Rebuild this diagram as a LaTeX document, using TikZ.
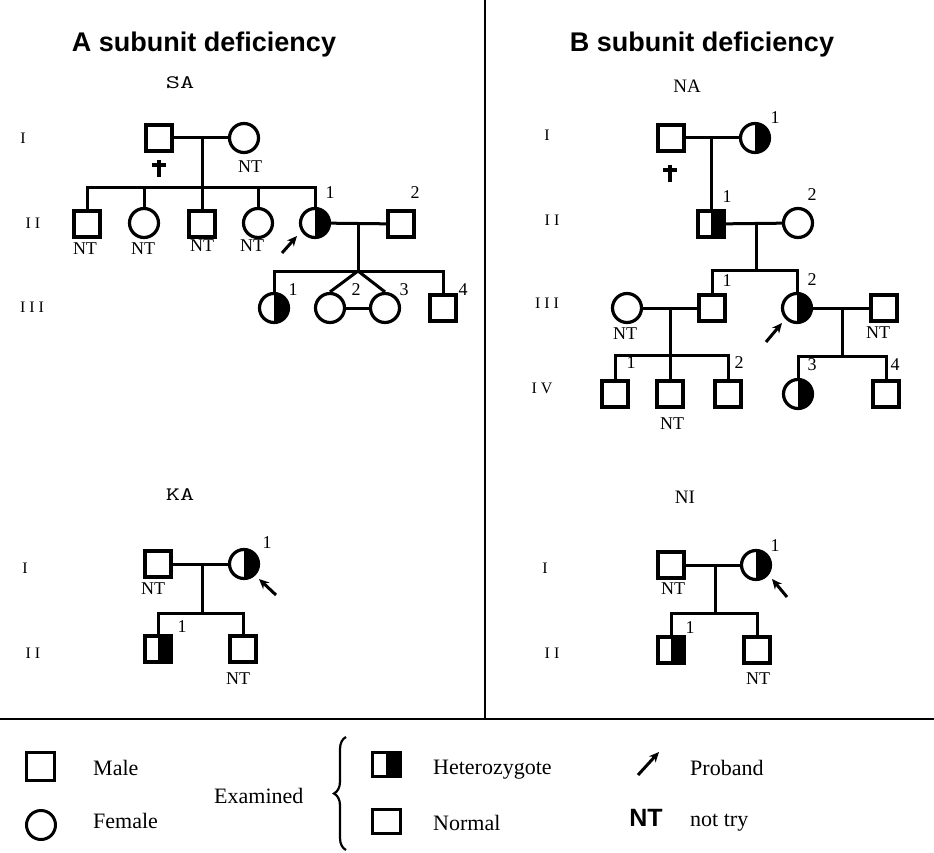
\documentclass[tikz,border=0pt]{standalone}
\usepackage{fontspec}
\setmainfont{Liberation Serif}
\setsansfont{Liberation Sans}
\usetikzlibrary{arrows.meta,decorations.pathreplacing}
\begin{document}
\begin{tikzpicture}[x=1pt,y=-1pt,
  ln/.style={line width=3pt},
  male/.style={draw,rectangle,minimum size=26pt,inner sep=0pt,line width=3.2pt},
  female/.style={draw,circle,minimum size=29pt,inner sep=0pt,line width=3.2pt},
  hetf/.style={female,path picture={\fill (path picture bounding box.north) rectangle (path picture bounding box.south east);}},
  hetm/.style={male,path picture={\fill (path picture bounding box.north) rectangle (path picture bounding box.south east);}},
  lab/.style={font=\fontsize{18}{18}\selectfont,inner sep=0pt},
  gen/.style={font=\fontsize{16}{16}\selectfont,inner sep=0pt},
  ped/.style={font=\fontsize{19}{19}\selectfont,inner sep=0pt},
  pedtt/.style={font=\ttfamily\fontsize{19}{19}\selectfont,inner sep=0pt},
  ttl/.style={font=\sffamily\bfseries\fontsize{27}{27}\selectfont,inner sep=0pt},
  leg/.style={font=\fontsize{22}{22}\selectfont,inner sep=0pt,anchor=base west},
  legsym/.style={draw,rectangle,minimum width=28pt,minimum height=24pt,inner sep=0pt,line width=3pt},
  prob/.style={line width=3pt,-{Stealth[length=10pt,width=9pt]}},
  crs/.style={line width=3.6pt},
]
\useasboundingbox (0,0) rectangle (934,853);
% frame lines
\coordinate (vt) at (485,0);
\coordinate (vb) at (485,719);
\coordinate (hl) at (0,719);
\coordinate (hr) at (934,719);
\draw[line width=2.4pt] (vt) -- (vb);
\draw[line width=2.4pt] (hl) -- (hr);
% titles
\node[ttl] (tA) at (204,45) {A subunit deficiency};
\node[ttl] (tB) at (702,45) {B subunit deficiency};

%================ SA
\node[pedtt] (saT) at (180,83) {\scalebox{1.45}[1]{SA}};
\node[gen] (saG1) at (23,138) {I};
\node[gen] (saG2) at (33,223) {I I};
\node[gen] (saG3) at (32,307) {I I I};
\node[male] (sa1) at (159,138) {};
\node[female] (sa2) at (244,138) {};
\draw[ln] (sa1) -- (sa2);
\coordinate (sam) at (202,138);
\coordinate (sasib) at (202,188);
\draw[ln] (sam) -- (sasib);
\draw[crs] (159,160) -- (159,177);
\draw[crs] (152,165) -- (166,165);
\node[lab] (saNT0) at (250,167) {NT};
\node[male] (sa3) at (87,224) {};
\node[female] (sa4) at (144,223) {};
\node[male] (sa5) at (202,224) {};
\node[female] (sa6) at (258,223) {};
\node[hetf] (sa7) at (315,223) {};
\node[male] (sa8) at (401,224) {};
\draw[ln] (sa3.north) |- (sasib) -| (sa7.north);
\draw[ln] (sa4.north) -- (sa4.north |- sasib);
\draw[ln] (sa5.north) -- (sa5.north |- sasib);
\draw[ln] (sa6.north) -- (sa6.north |- sasib);
\node[lab] (saNT1) at (85,249) {NT};
\node[lab] (saNT2) at (143,249) {NT};
\node[lab] (saNT3) at (202,246) {NT};
\node[lab] (saNT4) at (252,246) {NT};
\node[lab] (sal1) at (330,193) {1};
\node[lab] (sal2) at (415,193) {2};
\coordinate (saa1) at (282,253);
\coordinate (saa2) at (297,236);
\draw[prob] (saa1) -- (saa2);
\draw[ln] (sa7) -- (sa8);
\coordinate (sam2) at (358,223);
\coordinate (sasib2) at (358,271);
\draw[ln] (sam2) -- (sasib2);
\node[hetf] (sa9) at (274,308) {};
\node[female] (sa10) at (330,308) {};
\node[female] (sa11) at (385,308) {};
\node[male] (sa12) at (443,308) {};
\draw[ln] (sa9.north) |- (sasib2) -| (sa12.north);
\draw[ln] (sasib2) -- (sa10.north);
\draw[ln] (sasib2) -- (sa11.north);
\draw[ln] (sa10) -- (sa11);
\node[lab] (sal3) at (293,290) {1};
\node[lab] (sal4) at (356,290) {2};
\node[lab] (sal5) at (404,290) {3};
\node[lab] (sal6) at (463,290) {4};

%================ NA
\node[ped] (naT) at (687,86) {NA};
\node[gen] (naG1) at (547,135) {I};
\node[gen] (naG2) at (552,220) {I I};
\node[gen] (naG3) at (547,303) {I I I};
\node[gen] (naG4) at (542,388) {I V};
\node[male] (na1) at (671,138) {};
\node[hetf] (na2) at (755,138) {};
\draw[ln] (na1) -- (na2);
\coordinate (nam) at (711,138);
\draw[crs] (670,165) -- (670,182);
\draw[crs] (663,170) -- (677,170);
\node[lab] (nal1) at (775,118) {1};
\node[hetm] (na3) at (711,224) {};
\node[female] (na4) at (798,223) {};
\draw[ln] (nam) -- (na3);
\draw[ln] (na3) -- (na4);
\node[lab] (nal2) at (727,197) {1};
\node[lab] (nal3) at (812,195) {2};
\coordinate (nam2) at (756,223);
\coordinate (nasib2) at (756,270);
\draw[ln] (nam2) -- (nasib2);
\node[male] (na5) at (712,308) {};
\node[hetf] (na6) at (797,308) {};
\draw[ln] (na5.north) |- (nasib2) -| (na6.north);
\node[lab] (nal4) at (727,281) {1};
\node[lab] (nal5) at (812,280) {2};
\node[female] (na7) at (627,308) {};
\node[lab] (naNT1) at (625,334) {NT};
\draw[ln] (na7) -- (na5);
\coordinate (nam3) at (670,308);
\coordinate (nasib3) at (670,355);
\draw[ln] (nam3) -- (nasib3);
\node[male] (na8) at (615,394) {};
\node[male] (na9) at (670,394) {};
\node[male] (na10) at (728,394) {};
\draw[ln] (na8.north) |- (nasib3) -| (na10.north);
\draw[ln] (nasib3) -- (na9);
\node[lab] (nal6) at (631,363) {1};
\node[lab] (nal7) at (739,363) {2};
\node[lab] (naNT2) at (672,424) {NT};
\node[male] (na11) at (884,308) {};
\node[lab] (naNT3) at (878,333) {NT};
\draw[ln] (na6) -- (na11);
\coordinate (nam4) at (842,308);
\coordinate (nasib4) at (842,356);
\draw[ln] (nam4) -- (nasib4);
\node[hetf] (na12) at (798,394) {};
\node[male] (na13) at (886,394) {};
\draw[ln] (na12.north) |- (nasib4) -| (na13.north);
\node[lab] (nal8) at (812,365) {3};
\node[lab] (nal9) at (895,365) {4};
\coordinate (naa1) at (766,342);
\coordinate (naa2) at (782,323);
\draw[prob] (naa1) -- (naa2);

%================ KA
\node[pedtt] (kaT) at (180,495) {\scalebox{1.45}[1]{KA}};
\node[gen] (kaG1) at (25,568) {I};
\node[gen] (kaG2) at (33,653) {I I};
\node[male] (ka1) at (158,564) {};
\node[hetf] (ka2) at (244,564) {};
\draw[ln] (ka1) -- (ka2);
\node[lab] (kaNT1) at (153,589) {NT};
\node[lab] (kal1) at (267,543) {1};
\coordinate (kam) at (202,564);
\coordinate (kasib) at (202,613);
\draw[ln] (kam) -- (kasib);
\node[hetm] (ka3) at (158,649) {};
\node[male] (ka4) at (243,649) {};
\draw[ln] (ka3.north) |- (kasib) -| (ka4.north);
\node[lab] (kal2) at (182,627) {1};
\node[lab] (kaNT2) at (238,679) {NT};
\coordinate (kaa1) at (276,595);
\coordinate (kaa2) at (259,579);
\draw[prob] (kaa1) -- (kaa2);

%================ NI
\node[ped] (niT) at (685,497) {NI};
\node[gen] (niG1) at (545,568) {I};
\node[gen] (niG2) at (552,653) {I I};
\node[male] (ni1) at (671,565) {};
\node[hetf] (ni2) at (756,565) {};
\draw[ln] (ni1) -- (ni2);
\node[lab] (niNT1) at (673,589) {NT};
\node[lab] (nil1) at (775,546) {1};
\coordinate (nim) at (715,565);
\coordinate (nisib) at (715,613);
\draw[ln] (nim) -- (nisib);
\node[hetm] (ni3) at (671,650) {};
\node[male] (ni4) at (757,650) {};
\draw[ln] (ni3.north) |- (nisib) -| (ni4.north);
\node[lab] (nil2) at (690,628) {1};
\node[lab] (niNT2) at (758,679) {NT};
\coordinate (nia1) at (787,597);
\coordinate (nia2) at (772,579);
\draw[prob] (nia1) -- (nia2);

%================ legend
\node[legsym,minimum height=28pt] (lm) at (40,766) {};
\node[draw,circle,minimum size=29pt,inner sep=0pt,line width=3pt] (lf) at (41,825) {};
\node[leg] (lmt) at (93,775) {Male};
\node[leg] (lft) at (93,828) {Female};
\node[leg] (lex) at (214,803) {Examined};
\coordinate (br1) at (346,850);
\coordinate (br2) at (346,737);
\draw[line width=2.2pt,decorate,decoration={brace,amplitude=12pt}] (br1) -- (br2);
\node[legsym,
  path picture={\fill (path picture bounding box.north) rectangle (path picture bounding box.south east);}] (lh) at (386,764) {};
\node[legsym] (ln2) at (386,821) {};
\node[leg] (lht) at (433,774) {Heterozygote};
\node[leg] (lnt) at (433,830) {Normal};
\coordinate (lpa1) at (638,775);
\coordinate (lpa2) at (659,752);
\draw[prob] (lpa1) -- (lpa2);
\node[leg] (lpt) at (690,775) {Proband};
\node[font=\sffamily\bfseries\fontsize{25}{25}\selectfont,inner sep=0pt] (lnt2) at (646,818) {NT};
\node[leg] (lntt) at (690,826) {not try};
\end{tikzpicture}
\end{document}
